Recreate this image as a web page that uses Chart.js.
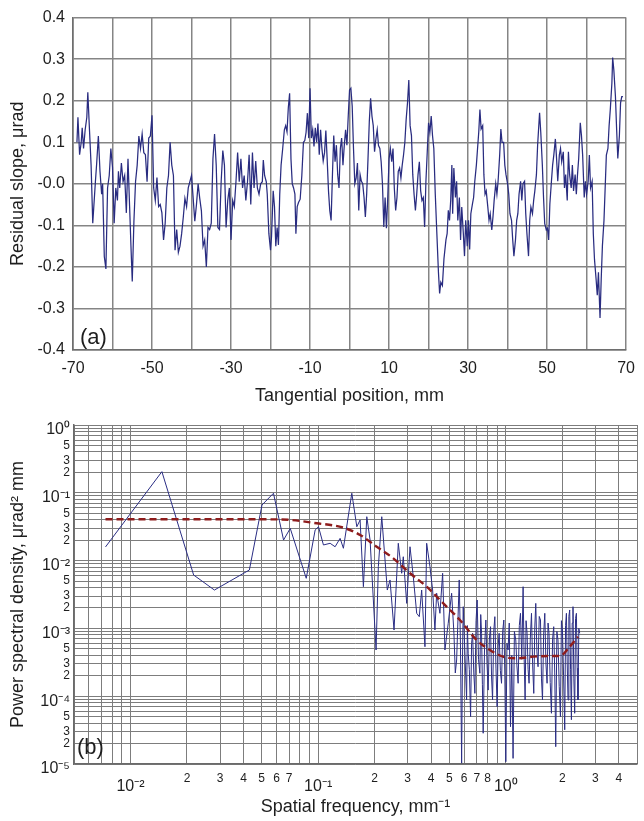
<!DOCTYPE html>
<html>
<head>
<meta charset="utf-8">
<script src="https://cdn.jsdelivr.net/npm/chart.js@4.4.1/dist/chart.umd.min.js"></script>
<style>
  html, body { margin: 0; padding: 0; background: #ffffff; }
  body { width: 644px; height: 821px; position: relative; overflow: hidden; }
  canvas { position: absolute; left: 0; }
  #slopeChart { top: 0; width: 644px; height: 410px; }
  #psdChart { top: 405px; width: 644px; height: 416px; }
</style>
</head>
<body>
<canvas id="slopeChart" width="644" height="410"></canvas>
<canvas id="psdChart" width="644" height="416"></canvas>
<script>
// ---------- (a) residual slope profile ----------
const slopePosMm = [
  -69.0,-68.75,-68.33,-67.92,-67.67,-67.33,-66.92,-66.5,-66.25,-65.83,
  -65.42,-65.0,-64.33,-64.0,-63.58,-63.17,-62.75,-62.5,-62.08,-61.67,
  -61.25,-60.83,-60.42,-60.0,-59.58,-59.17,-58.75,-58.5,-58.17,-57.75,
  -57.33,-56.92,-56.5,-56.08,-55.67,-55.33,-55.0,-54.58,-54.17,-53.75,
  -53.33,-52.92,-52.5,-52.08,-51.67,-51.25,-50.83,-50.42,-50.0,-49.58,
  -49.17,-48.75,-48.33,-47.92,-47.5,-47.08,-46.67,-46.25,-45.83,-45.42,
  -45.0,-44.58,-44.17,-43.75,-43.33,-42.92,-42.5,-42.08,-41.67,-41.25,
  -40.83,-40.42,-40.0,-39.58,-39.17,-38.75,-38.33,-37.92,-37.5,-37.08,
  -36.67,-36.25,-35.83,-35.42,-35.0,-34.58,-34.17,-33.75,-33.33,-32.92,
  -32.5,-32.08,-31.67,-31.25,-30.83,-30.42,-30.0,-29.58,-29.17,-28.75,
  -28.33,-27.92,-27.5,-27.08,-26.67,-26.25,-25.83,-25.42,-25.0,-24.58,
  -24.17,-23.75,-23.33,
  -22.92,-22.5,-22.08,-21.83,-21.5,-21.08,-20.83,-20.42,-20.0,-19.75,
  -19.33,-19.0,-18.67,-18.33,-18.0,-17.67,-17.33,-16.92,-16.5,-16.17,
  -15.83,-15.5,-15.17,-14.83,-14.5,-14.17,-13.83,-13.58,-13.25,-12.92,
  -12.5,-12.08,-11.67,-11.33,-11.0,-10.67,-10.33,-10.0,-9.67,-9.33,
  -9.0,-8.67,-8.33,-8.0,-7.67,-7.33,-7.0,-6.67,-6.33,-6.0,
  -5.67,-5.33,-5.0,-4.67,-4.33,-4.0,-3.67,-3.33,-3.0,-2.67,
  -2.33,-2.0,-1.67,-1.33,-1.0,-0.67,-0.33,0.0,0.33,0.67,
  1.0,1.33,1.67,2.0,2.33,2.67,3.0,3.33,3.67,4.0,
  4.33,4.67,5.0,5.33,5.67,6.0,6.33,6.67,7.0,7.33,
  7.67,8.0,8.33,8.67,9.0,9.33,9.67,10.0,10.33,10.67,
  11.0,11.33,11.67,12.0,12.33,12.67,13.0,13.33,13.67,14.0,
  14.33,14.67,15.0,15.33,15.67,16.0,16.33,16.67,17.0,17.33,
  17.67,18.0,18.33,18.67,19.0,19.33,19.67,20.0,20.33,20.67,
  21.0,21.33,
  21.7,22.1,22.5,22.8,23.1,23.5,23.9,24.4,24.7,25.0,
  25.3,25.6,25.9,26.1,26.4,26.8,27.1,27.4,27.8,28.1,
  28.4,28.8,29.1,29.4,29.8,30.1,30.4,30.7,31.1,31.4,
  31.7,32.1,32.4,32.7,33.0,33.3,33.7,34.0,34.3,34.6,
  35.0,35.3,35.6,36.0,36.3,36.6,37.0,37.3,37.6,38.0,
  38.3,38.6,39.0,39.3,39.6,40.0,40.3,40.6,41.0,41.3,
  41.6,42.0,42.3,42.6,42.9,43.3,43.6,43.9,44.3,44.6,
  44.9,45.3,45.6,45.9,46.3,46.6,46.9,47.3,47.6,47.8,
  48.1,48.4,48.8,49.1,49.4,49.8,50.1,50.4,50.7,51.1,
  51.4,51.7,52.1,52.4,52.7,53.1,53.4,53.7,54.1,54.4,
  54.7,55.1,55.4,55.7,56.1,56.4,56.7,57.1,57.4,57.7,
  58.0,58.4,58.7,59.0,59.4,59.7,60.0,60.4,60.7,61.0,
  61.4,61.7,62.0,62.4,62.7,63.0,63.4,63.7,64.0,64.4,
  64.7,65.0,65.4,65.7,66.0,66.4,66.6,66.9,67.3,67.6,
  67.9,68.3,68.6,68.9,69.2
];
const slopeUrad = [
  0.10,0.16,0.07,0.10,0.135,0.085,0.13,0.16,0.22,0.13,
  0.045,-0.095,0.005,0.05,0.115,0.03,-0.025,0,-0.175,-0.205,
  -0.01,0.02,0.085,0.04,-0.095,-0.01,-0.04,0.03,-0.01,0.05,
  0.005,0.02,-0.07,0.06,-0.055,-0.15,-0.235,-0.09,0.005,0.045,
  0.115,0.085,0.12,0.075,0.07,0.005,0.11,0.115,0.165,-0.01,
  -0.04,0.015,-0.055,-0.05,-0.07,-0.135,-0.095,-0.01,0.02,0.1,
  0.045,0.02,-0.16,-0.11,-0.165,-0.15,-0.12,-0.08,-0.035,-0.055,
  -0.01,0.005,0.02,-0.035,-0.09,-0.05,0,-0.035,-0.065,-0.15,
  -0.135,-0.2,-0.105,-0.11,-0.095,0.06,0.12,0.045,-0.105,-0.11,
  0.005,0.08,0.045,-0.105,-0.04,-0.01,-0.135,-0.04,-0.055,0.005,
  0.075,0.005,0.06,-0.01,0.02,-0.04,0.005,0.07,-0.05,0.075,
  -0.01,0.055,-0.01,
  -0.025,0,0.005,0.057,0.02,0.005,-0.025,-0.12,-0.16,-0.127,
  -0.017,-0.055,-0.15,-0.105,-0.147,-0.025,0.045,0.085,0.13,0.14,
  0.125,0.183,0.218,0.06,0,-0.01,-0.025,-0.12,-0.055,-0.045,
  -0.037,0.02,0.1,0.104,0.124,0.17,0.11,0.23,0.11,0.13,
  0.09,0.135,0.1,0.145,0.07,0.13,0.085,0.055,0.075,0.128,
  0.06,-0.017,-0.065,-0.088,0.022,0.116,0.053,0.093,0.022,-0.01,
  0.085,0.11,0.045,0.093,0.13,0.093,0.163,0.226,0.23,0.187,
  0.085,0,0.014,0.05,-0.064,0.022,0.006,0,-0.033,-0.08,
  -0.025,0.06,0.15,0.206,0.163,0.14,0.077,0.108,0.13,0.092,
  0.085,0.053,0,-0.104,-0.033,-0.107,-0.033,0.06,0.085,0.053,
  0.085,-0.01,-0.064,-0.033,0.03,0.038,0.014,0.045,0.07,0.1,
  0.155,0.195,0.25,0.14,0.116,0.022,-0.025,-0.064,-0.025,0.022,
  0.053,-0.017,-0.04,-0.033,-0.104,0.006,0.077,0.147,0.124,0.163,
  0.116,0.085,
  -0.025,-0.12,-0.213,-0.264,-0.237,-0.245,-0.18,-0.135,-0.12,-0.064,
  -0.088,-0.04,0.045,-0.072,0.038,-0.033,0.006,-0.088,-0.033,-0.135,
  -0.056,-0.12,-0.174,-0.088,-0.15,-0.088,-0.158,-0.072,-0.049,-0.033,
  0.006,0.045,0.085,0.124,0.179,0.132,0.14,0.022,-0.025,-0.017,
  -0.056,-0.088,-0.072,-0.111,-0.08,-0.04,0,-0.025,0.006,0.069,
  0.132,0.1,0.1,0.045,0.022,0,-0.025,-0.072,-0.088,-0.135,
  -0.174,-0.135,-0.088,-0.072,-0.025,0.006,-0.04,0,0.006,-0.072,
  -0.12,-0.174,-0.088,-0.056,-0.072,-0.04,-0.017,0.022,0.092,0.124,
  0.171,0.124,0.045,-0.033,-0.096,-0.111,-0.107,-0.135,-0.049,0.006,
  0.045,0.069,0.108,0.061,0.006,0.069,0.085,0.053,0.077,-0.01,
  0.022,-0.04,0.077,0.022,-0.01,0.045,-0.017,0.022,-0.025,0.022,
  0.061,0.147,0.116,0.069,-0.033,0.006,-0.025,0.006,0.069,-0.01,
  0.006,-0.12,-0.182,-0.229,-0.268,-0.213,-0.323,-0.229,-0.15,-0.088,
  -0.01,0.069,0.085,0.14,0.179,0.242,0.304,0.273,0.21,0.132,
  0.061,0.116,0.195,0.21,0.21
];
const posTickValues = [-70,-60,-50,-40,-30,-20,-10,0,10,20,30,40,50,60,70];
const posTickLabels = ['-70','','-50','','-30','','-10','','10','','30','','50','','70'];
const slopeTickValues = [-0.4,-0.3,-0.2,-0.1,0,0.1,0.2,0.3,0.4];
const slopeTickLabels = ['-0.4','-0.3','-0.2','-0.1','-0.0','0.1','0.2','0.3','0.4'];

// ---------- (b) power spectral density ----------
const psdFreq = [
  0.00736,0.0147,0.0217,0.028,0.043,0.0502,0.0578,0.0654,0.071,0.0864,
  0.0964,0.1004,0.1067,0.1158,0.1231,0.1309,0.1363,0.1511,0.1607,0.1673,
  0.1742,0.1816,0.1891,0.2035,0.2093,0.2182,0.2272,0.2336,0.2415,0.2537,
  0.2673,0.2787,0.2842,0.2963,0.3086,0.3213,0.335,0.3458,0.3561,0.3708,
  0.3786,0.3942,0.4074,0.419,0.4279,0.4455,0.4605,0.4737,0.4933,0.5143,
  0.529,0.538,0.5468,0.556,0.5645,0.573,0.5814,0.587,0.5929,0.605,
  0.618,0.624,0.6302,0.639,0.649,0.657,0.6652,0.675,0.6842,0.694,
  0.7037,0.715,0.7273,0.735,0.7426,0.750,0.7574,0.770,0.7828,0.794,
  0.8052,0.817,0.8291,0.839,0.8498,0.862,0.874,0.886,0.8989,0.91,
  0.9213,0.935,0.9487,0.962,0.9759,0.988,1.0,1.014,1.028,1.043,
  1.059,1.076,1.093,1.111,1.13,1.146,1.163,1.18,1.197,1.216,
  1.236,1.251,1.267,1.282,1.298,1.314,1.33,1.35,1.37,1.389,
  1.409,1.426,1.444,1.464,1.485,1.507,1.53,1.549,1.568,1.59,
  1.613,1.636,1.659,1.679,1.699,1.724,1.75,1.775,1.8,1.822,
  1.845,1.871,1.897,1.925,1.954,1.978,2.003,2.031,2.06,2.081,
  2.103,2.124,2.145,2.167,2.19,2.213,2.236,2.258,2.28,2.304,
  2.328,2.352,2.377,2.4,2.424,2.449,2.475
];
const psdValue = [
  0.0159,0.205,0.00613,0.00368,0.00727,0.0661,0.0984,0.0201,0.0299,0.00548,
  0.0283,0.0316,0.017,0.018,0.016,0.0213,0.0152,0.0984,0.0316,0.0397,
  0.00412,0.0444,0.0201,0.00048,0.00813,0.0444,0.0102,0.00368,0.00518,0.000946,
  0.018,0.0065,0.0114,0.00234,0.016,0.00579,0.00167,0.00149,0.00368,0.000537,
  0.018,0.00813,0.00368,0.000946,0.0033,0.00167,0.0065,0.00048,0.00119,0.0033,
  8.47e-4,2.2e-4,3.42e-4,1.4e-3,5.18e-3,6e-4,1.03e-5,3e-4,2.09e-3,4.5e-4,
  8.8e-5,1.1e-3,4.3e-4,2.5e-4,5e-5,6e-4,8.47e-4,2.2e-4,1.1e-4,1.3e-3,
  2.62e-3,3.5e-4,2.18e-4,1.6e-3,8.47e-4,1.5e-4,2.84e-5,5e-4,1.33e-3,3e-4,
  1.23e-4,7e-4,1.06e-3,2e-4,8.8e-5,9e-4,1.49e-3,2.6e-4,7e-5,5.5e-4,
  8.47e-4,2.4e-4,1.55e-4,9e-4,1.33e-3,2e-4,1.08e-5,6e-4,4.8e-4,1.2e-3,
  3.55e-5,4e-4,1.21e-5,9e-4,6.75e-4,2.8e-4,1.55e-4,1.1e-3,1.67e-3,3.5e-4,
  4.12e-3,4e-4,8.8e-5,1.3e-3,8.47e-4,2.5e-4,1.55e-4,7e-4,1.67e-3,3e-4,
  1.1e-4,1e-3,2.34e-3,4.5e-4,2.72e-4,1.5e-3,1.33e-3,1.8e-4,8.8e-5,8e-4,
  1.67e-3,3e-4,1.55e-4,1.2e-3,8.47e-4,1.6e-4,5.6e-5,7e-4,1.06e-3,2.2e-4,
  1.8e-5,9e-4,6.75e-4,1.4e-4,5e-5,1.3e-3,9.46e-4,2e-4,3.2e-5,1.1e-3,
  1.67e-3,3e-4,8.8e-5,1.5e-3,1.87e-3,2.5e-4,4.5e-5,1.2e-3,2.09e-3,1.8e-4,
  5.6e-5,1.4e-3,1.67e-3,2.6e-4,8.8e-5,1e-3,8.47e-4
];
// fitted model curve (dashed)
const fitFreq = [0.00736,0.02357,0.0385,0.0628,0.0984,0.1363,0.1673,0.2052,0.2515,0.3086,0.3786,
  0.4645,0.5692,0.6985,0.822,0.967,1.14,1.397,1.714,1.937,2.19,2.424];
const fitValue = [0.0407,0.0407,0.0407,0.0405,0.0355,0.0306,0.0239,0.016,0.0108,0.0065,0.00412,
  0.00234,0.00133,0.000675,0.00048,0.000383,0.000362,0.000383,0.000392,0.000392,0.000537,0.000755];

const freqTickValues = [0.005,0.006,0.007,0.008,0.009,
  0.01,0.02,0.03,0.04,0.05,0.06,0.07,0.08,0.09,
  0.1,0.2,0.3,0.4,0.5,0.6,0.7,0.8,0.9,
  1,2,3,4,5];
const freqTickLabels = ['','','','','',
  '10⁻²','2','3','4','5','6','7','','',
  '10⁻¹','2','3','4','5','6','7','8','',
  '10⁰','2','3','4',''];
const psdDecades = [1e-5,1e-4,1e-3,1e-2,1e-1,1];
const psdDecadeLabels = ['10⁻⁵','10⁻⁴','10⁻³','10⁻²','10⁻¹','10⁰'];
const psdMantissas = [1,2,3,4,5,6,7,8,9];
const psdMantissaLabels = ['','2','3','','5','','','',''];

const FONT = '"Liberation Sans", Arial, Helvetica, sans-serif';
Chart.defaults.font.family = FONT;
Chart.defaults.color = '#1e1e1e';

// "(a)" / "(b)" panel tags in the lower-left corner of each plot
const panelTag = {
  id: 'panelTag',
  afterDraw(chart, args, opts) {
    const { ctx, chartArea } = chart;
    ctx.save();
    ctx.font = '22px ' + FONT;
    ctx.fillStyle = '#1e1e1e';
    ctx.textAlign = 'left';
    ctx.textBaseline = 'alphabetic';
    ctx.fillText(opts.text, chartArea.left + opts.dx, chartArea.bottom - opts.dy);
    ctx.restore();
  }
};

const slopePoints = slopePosMm.map((x, i) => ({ x, y: slopeUrad[i] }));

new Chart(document.getElementById('slopeChart'), {
  type: 'line',
  data: {
    datasets: [{
      data: slopePoints,
      borderColor: '#292c80',
      borderWidth: 1.25,
      pointRadius: 0,
      tension: 0
    }]
  },
  options: {
    responsive: false,
    animation: false,
    events: [],
    layout: { padding: { top: 11, right: 9, left: 0, bottom: 0 } },
    plugins: {
      legend: { display: false },
      tooltip: { enabled: false },
      panelTag: { text: '(a)', dx: 7, dy: 6 }
    },
    scales: {
      x: {
        type: 'linear',
        min: -70, max: 70,
        afterBuildTicks: s => { s.ticks = posTickValues.map(v => ({ value: v })); },
        afterFit: s => { s.height = 60; },
        ticks: {
          autoSkip: false, maxRotation: 0, minRotation: 0,
          padding: 9,
          font: { size: 16 },
          callback: (v, i) => posTickLabels[i]
        },
        grid: { color: '#858585', lineWidth: 1.5, drawTicks: false, tickLength: 0 },
        border: { color: '#6e6e6e', width: 1.6 },
        title: {
          display: true,
          text: 'Tangential position, mm',
          font: { size: 18 },
          padding: { top: 0, bottom: 3 }
        }
      },
      y: {
        min: -0.4, max: 0.4,
        afterBuildTicks: s => { s.ticks = slopeTickValues.map(v => ({ value: v })); },
        afterFit: s => { s.width = 73; },
        ticks: {
          padding: 8,
          font: { size: 16 },
          callback: (v, i) => slopeTickLabels[i]
        },
        grid: { color: '#858585', lineWidth: 1.5, drawTicks: false, tickLength: 0 },
        border: { color: '#6e6e6e', width: 1.6 },
        title: {
          display: true,
          text: 'Residual slope, μrad',
          font: { size: 18 },
          padding: { top: 7, bottom: 0 }
        }
      }
    }
  },
  plugins: [panelTag]
});

const psdPoints = psdFreq.map((x, i) => ({ x, y: psdValue[i] }));
const fitPoints = fitFreq.map((x, i) => ({ x, y: fitValue[i] }));

const psdTickValues = [];
const psdTickLabels = [];
psdDecades.forEach((d, di) => {
  psdMantissas.forEach((m, mi) => {
    if (d === 1 && m > 1) return;
    psdTickValues.push(m * d);
    psdTickLabels.push(m === 1 ? ['', psdDecadeLabels[di]] : psdMantissaLabels[mi]);
  });
});

new Chart(document.getElementById('psdChart'), {
  type: 'line',
  data: {
    datasets: [
      {
        data: fitPoints,
        borderColor: '#8e1c1c',
        borderWidth: 2.4,
        borderDash: [7, 4],
        pointRadius: 0,
        cubicInterpolationMode: 'monotone',
        order: 0
      },
      {
        data: psdPoints,
        borderColor: '#2a2d84',
        borderWidth: 1,
        pointRadius: 0,
        tension: 0,
        order: 1
      }
    ]
  },
  options: {
    responsive: false,
    animation: false,
    events: [],
    layout: { padding: { top: 20, right: 7, left: 0, bottom: 0 } },
    plugins: {
      legend: { display: false },
      tooltip: { enabled: false },
      panelTag: { text: '(b)', dx: 3, dy: 10 }
    },
    scales: {
      x: {
        type: 'logarithmic',
        min: 0.005, max: 5,
        afterBuildTicks: s => { s.ticks = freqTickValues.map(v => ({ value: v })); },
        afterFit: s => { s.height = 57; },
        ticks: {
          autoSkip: false, maxRotation: 0, minRotation: 0,
          padding: 7,
          font: ctx => {
            const lbl = freqTickLabels[ctx.index] || '';
            return lbl.startsWith('10') ? { size: 16, lineHeight: 1.9 } : { size: 12, lineHeight: 1.2 };
          },
          callback: (v, i) => freqTickLabels[i]
        },
        grid: { color: '#7d7d7d', lineWidth: 1, drawTicks: false, tickLength: 0 },
        border: { color: '#6a6a6a', width: 1.5 },
        title: {
          display: true,
          text: 'Spatial frequency, mm⁻¹',
          font: { size: 18 },
          padding: { top: 0, bottom: 3 }
        }
      },
      y: {
        type: 'logarithmic',
        min: 1e-5, max: 1,
        afterBuildTicks: s => { s.ticks = psdTickValues.map(v => ({ value: v })); },
        afterFit: s => { s.width = 74; },
        ticks: {
          autoSkip: false,
          padding: 4,
          font: ctx => (Array.isArray(psdTickLabels[ctx.index])
            ? { size: 16, lineHeight: '10px' }
            : { size: 12, lineHeight: 1.2 }),
          callback: (v, i) => psdTickLabels[i]
        },
        grid: { color: '#7d7d7d', lineWidth: 1, drawTicks: false, tickLength: 0 },
        border: { color: '#6a6a6a', width: 1.5 },
        title: {
          display: true,
          text: 'Power spectral density, μrad² mm',
          font: { size: 18 },
          padding: { top: 7, bottom: 0 }
        }
      }
    }
  },
  plugins: [panelTag]
});
</script>
</body>
</html>
